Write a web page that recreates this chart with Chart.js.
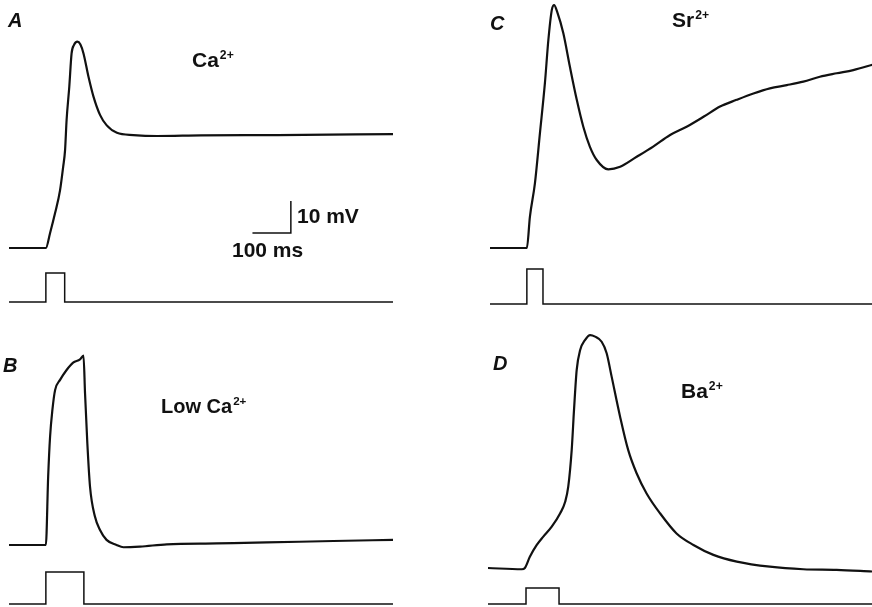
<!DOCTYPE html>
<html>
<head>
<meta charset="utf-8">
<script src="https://cdn.jsdelivr.net/npm/chart.js@4.4.1/dist/chart.umd.min.js"></script>
<style>
  body { margin: 0; background: #fff; }
  #fig { position: relative; width: 872px; height: 607px; overflow: hidden; font-family: "Liberation Sans", Arial, sans-serif; color: #111; }
  #fig canvas { position: absolute; }
  .lbl { position: absolute; line-height: 1; white-space: nowrap; font-weight: bold; }
  .lbl sup { font-size: 0.58em; line-height: 0; vertical-align: 0.66em; margin-left: 1px; }
  .panel { font-style: italic; font-size: 20px; }
</style>
</head>
<body>
<div id="fig">
  <canvas id="cA" width="436" height="310" style="left:0;top:0"></canvas>
  <canvas id="cB" width="436" height="297" style="left:0;top:310px"></canvas>
  <canvas id="cC" width="436" height="310" style="left:436px;top:0"></canvas>
  <canvas id="cD" width="436" height="297" style="left:436px;top:310px"></canvas>

  <div class="lbl panel" style="left:8px;top:10px">A</div>
  <div class="lbl" style="left:192px;top:49px;font-size:21px">Ca<sup>2+</sup></div>
  <div class="lbl" style="left:297px;top:205px;font-size:21px">10 mV</div>
  <div class="lbl" style="left:232px;top:239px;font-size:21px">100 ms</div>

  <div class="lbl panel" style="left:3px;top:355px">B</div>
  <div class="lbl" style="left:161px;top:396px;font-size:20px">Low Ca<sup>2+</sup></div>

  <div class="lbl panel" style="left:490px;top:13px">C</div>
  <div class="lbl" style="left:672px;top:9px;font-size:21px">Sr<sup>2+</sup></div>

  <div class="lbl panel" style="left:493px;top:353px">D</div>
  <div class="lbl" style="left:681px;top:380px;font-size:21px">Ba<sup>2+</sup></div>
</div>
<script>
// time in ms from sweep start, membrane potential in mV above rest
const timeA = [0, 96, 107, 120, 133, 141, 146, 150, 157, 163, 169, 178, 186, 194, 207, 220, 237, 254, 281, 324, 385, 500, 700, 1000];
const voltA = [0, 0, 4.7, 10.9, 18.1, 25.3, 30.6, 40, 50.4, 60.8, 63.4, 64.5, 63.6, 60.8, 53.5, 47.3, 41.6, 38.4, 36, 35.3, 35, 35.2, 35.3, 35.6];

const timeB = [0, 96, 102, 107, 113, 120, 133, 150, 167, 185, 194, 198, 204, 211, 224, 237, 254, 280, 298, 341, 411, 541, 671, 845, 1000];
const voltB = [0, 0, 21.4, 33.9, 42.2, 48.4, 51.6, 54.7, 57, 58, 59.2, 47.4, 31.8, 18.2, 8.8, 4.7, 1.6, 0, -0.7, -0.5, 0.2, 0.5, 0.8, 1.25, 1.6];

const timeC = [0, 96, 104, 117, 130, 143, 152, 161, 167, 175, 191, 208, 226, 243, 260, 278, 308, 339, 382, 425, 469, 512, 556, 599, 642, 686, 729, 773, 816, 859, 903, 946, 1000];
const voltC = [0, 0, 9.8, 20.2, 35.8, 51.5, 65, 74.4, 75.9, 73.8, 67.1, 56.7, 46.3, 37.9, 31.7, 27.5, 24.6, 25.4, 28.5, 31.7, 35.3, 37.9, 41, 44.2, 46.3, 48.3, 49.9, 50.9, 52, 53.5, 54.6, 55.6, 57.4];

const timeD = [0, 88, 96, 109, 127, 144, 166, 188, 201, 209, 218, 224, 231, 240, 253, 266, 279, 296, 309, 322, 344, 365, 387, 413, 448, 491, 535, 587, 648, 734, 821, 908, 1000];
const voltD = [0, -0.4, 0, 3.5, 7.2, 9.8, 12.9, 17.1, 20.7, 25.4, 36.9, 49.4, 61.9, 68.1, 71.3, 72.8, 72.3, 70.7, 67.1, 59.8, 47.3, 36.9, 29.6, 23.3, 17.1, 10.8, 7.2, 4.1, 2, 0.4, -0.4, -0.6, -1.1];

// stimulus pulse (on = 1)
const stimLevel = [0, 0, 1, 1, 0, 0];
const stimTimeA = [0, 96, 96, 145, 145, 1000];
const stimTimeB = [0, 96, 96, 195, 195, 1000];
const stimTimeC = [0, 96, 96, 138, 138, 1000];
const stimTimeD = [0, 99, 99, 185, 185, 1000];

// calibration: 100 ms, 10 mV
const barTime = [634, 734, 734];
const barVolt = [4.7, 4.7, 14.7];

const pts = (xs, ys) => xs.map((x, i) => ({ x: x, y: ys[i] }));

function panel(id, time, volt, stimTime, xr, vr, sr, extra) {
    const datasets = [
        { data: pts(time, volt), yAxisID: 'v', borderColor: '#111', borderWidth: 2.2, cubicInterpolationMode: 'monotone' },
        { data: pts(stimTime, stimLevel), yAxisID: 's', borderColor: '#111', borderWidth: 1.5, tension: 0 }
    ].concat(extra || []);
    new Chart(document.getElementById(id), {
        type: 'line',
        data: { datasets: datasets },
        options: {
            responsive: false,
            animation: false,
            events: [],
            devicePixelRatio: 1,
            layout: { padding: 0 },
            elements: { point: { radius: 0 } },
            plugins: { legend: { display: false }, tooltip: { enabled: false } },
            scales: {
                x: { type: 'linear', display: false, min: xr[0], max: xr[1] },
                v: { type: 'linear', display: false, min: vr[0], max: vr[1] },
                s: { type: 'linear', display: false, min: sr[0], max: sr[1] }
            }
        }
    });
}

panel('cA', timeA, voltA, stimTimeA, [-23.44, 1111.98], [-19.375, 77.5], [-0.276, 10.414],
    [{ data: pts(barTime, barVolt), yAxisID: 'v', borderColor: '#111', borderWidth: 1.5, tension: 0 }]);
panel('cB', timeB, voltB, stimTimeB, [-23.44, 1111.98], [-19.38, 73.44], [-0.094, 9.1875]);
panel('cC', timeC, voltC, stimTimeC, [-140.6, 994.8], [-19.375, 77.5], [-0.171, 8.686]);
panel('cD', timeD, voltD, stimTimeD, [-135.4, 1000], [-12.19, 80.625], [-0.1875, 18.375]);
</script>
</body>
</html>
